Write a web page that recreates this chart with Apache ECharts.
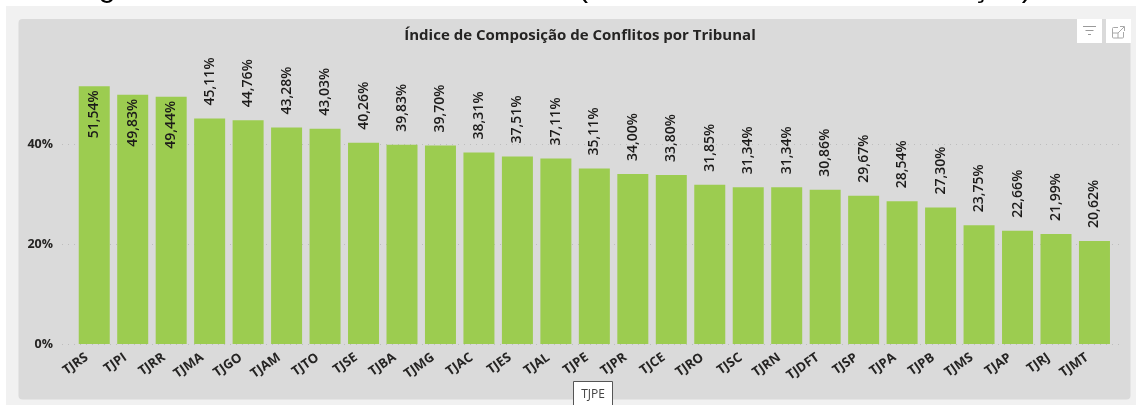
<!DOCTYPE html>
<html><head><meta charset="utf-8">
<style>html,body{margin:0;padding:0;background:#fff}#c{width:1136px;height:405px}</style>
<script src="https://cdn.jsdelivr.net/npm/echarts@6/dist/echarts.min.js"></script>
</head><body><div id="c"></div>
<script>
const categories = ['TJRS','TJPI','TJRR','TJMA','TJGO','TJAM','TJTO','TJSE','TJBA','TJMG','TJAC','TJES','TJAL','TJPE','TJPR','TJCE','TJRO','TJSC','TJRN','TJDFT','TJSP','TJPA','TJPB','TJMS','TJAP','TJRJ','TJMT'];
const values = [51.54,49.83,49.44,45.11,44.76,43.28,43.03,40.26,39.83,39.70,38.31,37.51,37.11,35.11,34.00,33.80,31.85,31.34,31.34,30.86,29.67,28.54,27.30,23.75,22.66,21.99,20.62];
const insideCount = 3;
const chartTitle = 'Índice de Composição de Conflitos por Tribunal';
const tooltipText = 'TJPE';
const font = '"Open Sans"';
const ink = '#252423';
const fmt = v => v.toFixed(2).replace('.', ',') + '%';
const line = (x1,y1,x2,y2,c,w) => ({type:'line',silent:true,shape:{x1,y1,x2,y2},style:{stroke:c||'#9a9a9a',lineWidth:w||1},z:22});
const clipped = (t,x,y) => ({type:'text',x,y,silent:true,z:20,style:{text:t,fontFamily:'"Liberation Sans"',fontSize:31,fill:'#000',textAlign:'center',textVerticalAlign:'bottom'}});
const chart = echarts.init(document.getElementById('c'), null, {renderer:'canvas'});
chart.setOption({
  animation:false,
  backgroundColor:'#fff',
  title:{text:chartTitle,left:575,top:23,textAlign:'center',textStyle:{fontFamily:font,fontSize:15,fontWeight:700,color:ink}},
  grid:[
    {left:62,width:1061,top:69,height:275},
    {left:75,width:1038.7,top:69,height:275}
  ],
  xAxis:[
    {gridIndex:0,type:'category',data:categories,show:false},
    {gridIndex:1,type:'category',data:categories,
      axisLine:{show:false},axisTick:{show:false},
      axisLabel:{interval:0,rotate:35,margin:7,padding:[0,9,0,0],fontFamily:font,fontSize:13,fontWeight:700,color:ink}}
  ],
  yAxis:[
    {gridIndex:0,type:'value',min:0,max:55,interval:20,
      axisLine:{show:false},axisTick:{show:false},
      axisLabel:{formatter:'{value}%',margin:9,showMaxLabel:false,fontFamily:font,fontSize:12.5,fontWeight:700,color:ink},
      splitLine:{show:true,showMaxLine:false,lineStyle:{type:[1,5],color:'#bdbdbd',width:1}}},
    {gridIndex:1,type:'value',min:0,max:55,interval:20,show:false,splitLine:{show:false}}
  ],
  series:[{
    type:'bar',xAxisIndex:1,yAxisIndex:1,barWidth:31,
    itemStyle:{color:'#9ccc50'},
    data:values.map((v,i)=>({value:v,label:i<insideCount
      ?{position:'insideTop',distance:5,align:'right',verticalAlign:'middle'}
      :{position:'top',distance:12,align:'left',verticalAlign:'middle'}})),
    label:{show:true,rotate:90,offset:[1,0],formatter:p=>fmt(p.value),fontFamily:font,fontSize:14,fontWeight:600,color:'#1c1b1a'}
  }],
  graphic:[
    {type:'rect',z:-10,silent:true,shape:{x:6,y:6,width:1130,height:399},style:{fill:'#f1f1f1'}},
    {type:'rect',z:-9,silent:true,shape:{x:18.5,y:19,width:1112,height:380.5,r:4},style:{fill:'#dadada'}},
    clipped('g',107,3),clipped('(',583,3),clipped('ç',980,3),clipped(')',1027,3),
    {type:'rect',z:19,silent:true,shape:{x:1077,y:19,width:25,height:24},style:{fill:'#fff'}},
    {type:'rect',z:19,silent:true,shape:{x:1106,y:19,width:25,height:24},style:{fill:'#fff'}},
    line(1083,26.5,1096,26.5),line(1085.5,30.5,1093.5,30.5),line(1088,34.5,1091,34.5),
    {type:'rect',z:20,silent:true,shape:{x:1112.5,y:27.5,width:11,height:10.5,r:1},style:{fill:'none',stroke:'#a8a8a8',lineWidth:1}},
    {type:'rect',z:21,silent:true,shape:{x:1118,y:25,width:8,height:7},style:{fill:'#fff'}},
    line(1112.5,33,1118,33,'#a8a8a8'),line(1118,33,1118,38,'#a8a8a8'),
    line(1118,33,1124,27,'#a8a8a8'),line(1120,26.5,1124.5,26.5,'#a8a8a8'),line(1124.5,26.5,1124.5,31,'#a8a8a8'),
    {type:'rect',z:20,silent:true,shape:{x:573.5,y:381.5,width:39,height:30},style:{fill:'#fff',stroke:'#555',lineWidth:1}},
    {type:'text',z:21,silent:true,x:593,y:395,style:{text:tooltipText,fontFamily:font,fontSize:12,fill:'#444',textAlign:'center',textVerticalAlign:'middle'}}
  ]
});
</script></body></html>
